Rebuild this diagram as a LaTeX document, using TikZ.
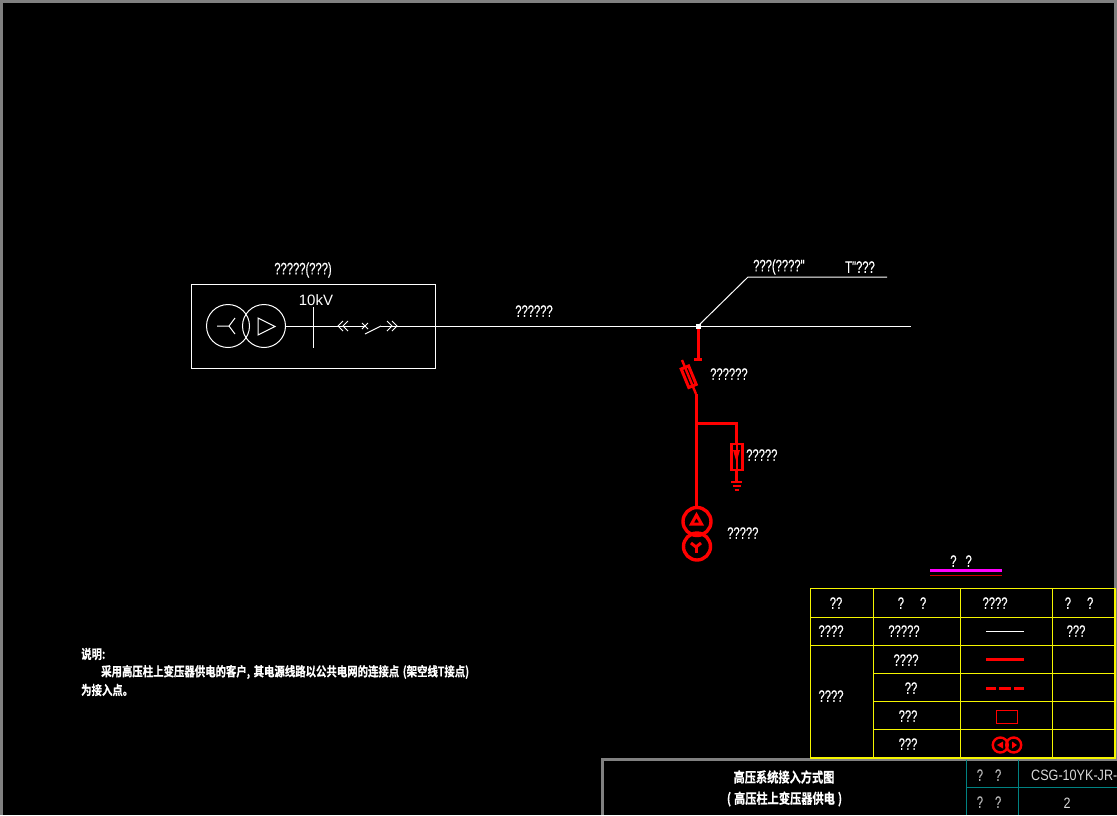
\documentclass[tikz,border=0pt]{standalone}
\usepackage{fontspec}
\usepackage{tikz}
\newfontfamily\cadfont[FakeStretch=0.68,FakeBold=0.3]{Liberation Sans}
\newfontfamily\plainfont{Liberation Sans}
\newfontfamily\codefont[FakeStretch=0.84]{Liberation Sans}
\newfontfamily\cjkfont[FakeStretch=0.8,FakeBold=0.5]{Noto Sans CJK SC Bold}
\definecolor{cadyellow}{RGB}{245,245,0}
\definecolor{cadmagenta}{RGB}{255,0,255}
\definecolor{cadteal}{RGB}{0,130,130}
\definecolor{cadgray}{RGB}{128,128,128}
\tikzset{
    wire/.style={draw=white, line width=1pt},
    redwire/.style={draw=red, line width=3pt},
    gridline/.style={draw=cadyellow, line width=1.2pt},
    tealline/.style={draw=cadteal, line width=1pt},
    framegray/.style={draw=cadgray, line width=3pt},
    lbl/.style={text=white, inner sep=0pt, font=\cadfont\fontsize{16.5}{16.5}\selectfont},
    graylbl/.style={lbl, text=white!70!black},
    note/.style={text=white, inner sep=0pt, anchor=west, font=\cjkfont\fontsize{13}{13}\selectfont},
    titlelbl/.style={text=white, inner sep=0pt, font=\cjkfont\fontsize{14}{14}\selectfont},
    fusebox/.style={draw=red, line width=3pt, minimum width=20pt, minimum height=8pt, inner sep=0pt, rotate=-67.6},
}
\begin{document}
\begin{tikzpicture}[x=1pt, y=-1pt]
            \useasboundingbox (0,0) rectangle (1117,815);
            \fill[black] (0,0) rectangle (1117,815);
            \draw[framegray] (1.5,815) -- (1.5,1.5) -- (1115.5,1.5) -- (1115.5,759);
            \draw[framegray] (602,815) -- (602,759) -- (1117,759);

            \node[lbl] (sourcetitle) at (303,270) {?????(???)};
            \draw[wire] (191,284) rectangle (435,368);
            \node (srca) [draw=white, circle, minimum size=43pt, inner sep=0pt, line width=1pt] at (228,326) {};
            \node (srcb) [draw=white, circle, minimum size=43pt, inner sep=0pt, line width=1pt] at (264,326) {};
            \draw[wire] (217,326) -- (229,326) -- (235,318);
            \draw[wire] (229,326) -- (235,334);
            \draw[wire] (258,318) -- (258,335) -- (275,326.5) -- cycle;
            \node[text=white, inner sep=0pt, font=\plainfont\fontsize{15}{15}\selectfont] (volt) at (316,300) {10kV};
            \coordinate (bustop) at (313,307);
            \coordinate (busbot) at (313,348);
            \draw[wire] (bustop) -- (busbot);
            \coordinate (contact) at (365,326);
            \coordinate (bladeend) at (365,334);
            \coordinate (bladetop) at (381,326);
            \coordinate (lineend) at (911,326);
            \coordinate (tap) at (698,326);
            \coordinate (bend) at (748,277);
            \coordinate (branchend) at (887,277);
            \draw[wire] (srcb.east) -- (contact);
            \draw[wire] (bladetop) -- (lineend);
            \draw[wire] (bladeend) -- (bladetop);
            \draw[wire] (362,323) -- (368,329);
            \draw[wire] (362,329) -- (368,323);
            \draw[wire] (343,321) -- (338,326) -- (343,331);
            \draw[wire] (348,321) -- (343,326) -- (348,331);
            \draw[wire] (387,321) -- (392,326) -- (387,331);
            \draw[wire] (392,321) -- (397,326) -- (392,331);
            \draw[wire] (tap) -- (bend) -- (branchend);
            \node[lbl] (linelabel) at (534,311) {??????};
            \node[lbl, anchor=west] (branchlabel) at (753,267) {???(????"};
            \node[lbl, anchor=west] (tlabel) at (845,267) {T"???};

            \coordinate (droptop) at (698,326);
            \coordinate (dropend) at (698,359);
            \coordinate (capleft) at (694,359.5);
            \coordinate (capright) at (702,359.5);
            \coordinate (fusetop) at (682,360);
            \coordinate (fusebot) at (696,394);
            \coordinate (tee) at (696,423);
            \coordinate (xfmrtop) at (696,507);
            \coordinate (arrcorner) at (736,423);
            \coordinate (arrgnd) at (736,482);
            \draw[redwire] (droptop) -- (dropend);
            \draw[redwire] (capleft) -- (capright);
            \draw[red, line width=2.4pt] (fusetop) -- (fusebot);
            \node[fusebox] (fuse) at (688.7,376.7) {};
            \draw[redwire] (fusebot) -- (xfmrtop);
            \draw[redwire] (tee) -- (arrcorner) -- (arrgnd);
            \node[lbl, anchor=west] (fuselabel) at (710,374) {??????};
            \node (arrester) [draw=red, line width=2.6pt, fill=black, minimum width=11pt, minimum height=26pt, inner sep=0pt] at (737,457) {};
            \draw[red, line width=1.5pt] (arrester.north) -- (arrester.south);
            \fill[red] (733,450) -- (740,450) -- (736.5,462) -- cycle;
            \draw[red, line width=2.4pt] (731,482) -- (742,482);
            \draw[red, line width=2.4pt] (733,486) -- (741,486);
            \draw[red, line width=2.4pt] (734.5,490) -- (739,490);
            \node[lbl, anchor=west] (arrlabel) at (746,455) {?????};

            \node (xfmra) [draw=red, circle, line width=3.4pt, minimum size=28pt, inner sep=0pt] at (697,521.5) {};
            \node (xfmrb) [draw=red, circle, line width=3.4pt, minimum size=27pt, inner sep=0pt] at (697,546.5) {};
            \draw[red, line width=3pt] (696.5,515) -- (691.5,524) -- (701.5,524) -- cycle;
            \draw[red, line width=3pt] (691,543) -- (696,547) -- (701,543);
            \draw[red, line width=3pt] (696,547) -- (696,553);
            \node[lbl, anchor=west] (xfmrlabel) at (727,533) {?????};

            \node[lbl] (tabletitle) at (961,561) {?\hspace{9pt}?};
            \draw[cadmagenta, line width=3pt] (930,570.5) -- (1002,570.5);
            \draw[red!80!black, line width=1pt] (930,575.5) -- (1002,575.5);

            \draw[gridline] (810.5,588.5) rectangle (1115,758);
            \draw[gridline] (810.5,617.5) -- (1115,617.5);
            \draw[gridline] (810.5,645.5) -- (1115,645.5);
            \draw[gridline] (873.5,673.5) -- (1115,673.5);
            \draw[gridline] (873.5,701.5) -- (1115,701.5);
            \draw[gridline] (873.5,729.5) -- (1115,729.5);
            \draw[gridline] (873.5,588.5) -- (873.5,758);
            \draw[gridline] (960.5,588.5) -- (960.5,758);
            \draw[gridline] (1052.5,588.5) -- (1052.5,758);

            \node[lbl] (headkind) at (836,603) {??};
            \node[lbl] (headname) at (912,603) {?\hspace{16pt}?};
            \node[lbl] (headsym) at (995,603) {????};
            \node[lbl] (headnote) at (1079,603) {?\hspace{16pt}?};
            \node[lbl] (rowa) at (831,631) {????};
            \node[lbl] (rowaname) at (904,631) {?????};
            \draw[white, line width=1pt] (986,631) -- (1024,631);
            \node[lbl] (rowanote) at (1076,631) {???};
            \node[lbl] (rowb) at (831,696) {????};
            \node[lbl] (rowbname) at (906,660) {????};
            \draw[red, line width=3pt] (986,659.5) -- (1024,659.5);
            \node[lbl] (rowcname) at (911,688) {??};
            \draw[red, line width=3.4pt] (986,688.5) -- (996,688.5);
            \draw[red, line width=3.4pt] (999,688.5) -- (1011,688.5);
            \draw[red, line width=3.4pt] (1014,688.5) -- (1024,688.5);
            \node[lbl] (rowdname) at (908,716) {???};
            \draw[red, line width=1pt] (996.5,710.5) rectangle (1017,723.5);
            \node[lbl] (rowename) at (908,744) {???};
            \node (keya) [draw=red, circle, line width=2.4pt, minimum size=15pt, inner sep=0pt] at (1000.3,745) {};
            \node (keyb) [draw=red, circle, line width=2.4pt, minimum size=15pt, inner sep=0pt] at (1013.7,745) {};
            \fill[red] (1003,741.5) -- (1003,748.5) -- (997,745) -- cycle;
            \fill[red] (1012,741.5) -- (1012,748.5) -- (1017,745) -- cycle;

            \node[note] (notea) at (81,654) {说明:};
            \node[note] (noteb) at (101,672) {采用高压柱上变压器供电的客户,\hspace{3.5pt}其电源线路以公共电网的连接点\hspace{3.5pt}(架空线T接点)\hspace{3.5pt}};
            \node[note] (notec) at (81,690) {为接入点。};

            \node[titlelbl] (titlea) at (784,777) {高压系统接入方式图};
            \node[titlelbl] (titleb) at (784.5,799) {(\hspace{3pt}高压柱上变压器供电\hspace{3pt})};
            \draw[tealline] (966.5,760) -- (966.5,815);
            \draw[tealline] (1018.5,760) -- (1018.5,815);
            \draw[tealline] (966.5,787.5) -- (1117,787.5);
            \node[graylbl] (drawingno) at (989,775) {?\hspace{12pt}?};
            \node[graylbl] (sheetno) at (989,802) {?\hspace{12pt}?};
            \node[text=white!85!black, inner sep=0pt, anchor=west, font=\codefont\fontsize{15}{15}\selectfont] (drawingval) at (1031,775) {CSG-10YK-JR-};
            \node[text=white!85!black, inner sep=0pt, font=\codefont\fontsize{15}{15}\selectfont] (sheetval) at (1067,803) {2};

            \fill[white] (695.5,323.5) rectangle (700.5,328.5);
        \end{tikzpicture}
\end{document}
